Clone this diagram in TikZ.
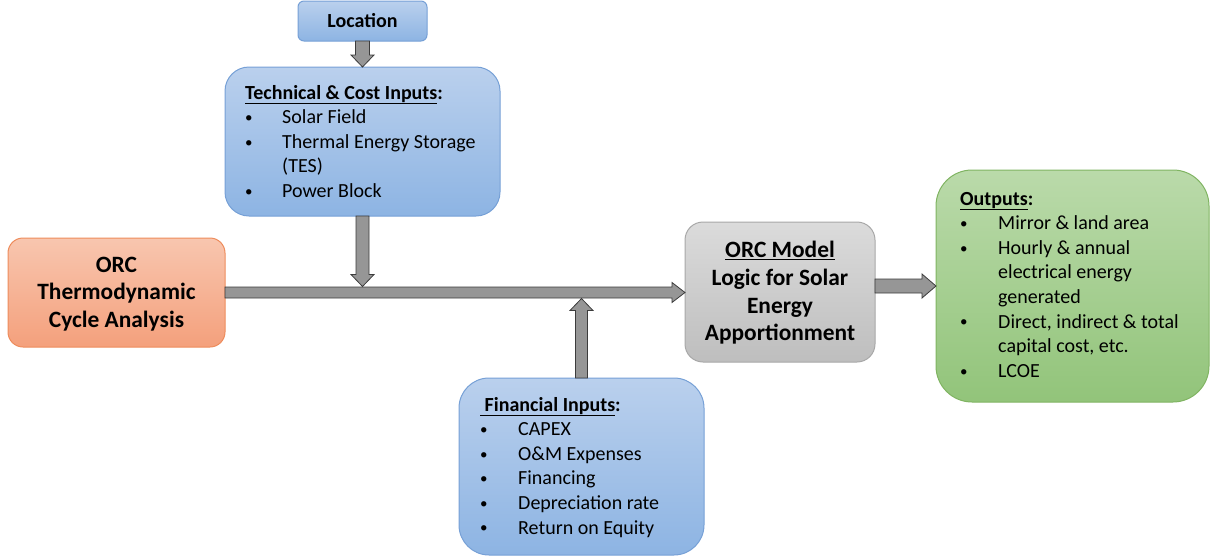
\documentclass[tikz,border=0pt]{standalone}
\usepackage{fontspec}
\setmainfont{Carlito}
\usetikzlibrary{calc}
\definecolor{bluetop}{RGB}{186,208,237}
\definecolor{bluebot}{RGB}{141,180,227}
\definecolor{blueborder}{RGB}{118,160,214}
\definecolor{orangetop}{RGB}{248,198,175}
\definecolor{orangebot}{RGB}{244,160,124}
\definecolor{orangeborder}{RGB}{238,140,92}
\definecolor{graytop}{RGB}{219,219,219}
\definecolor{graybot}{RGB}{190,190,190}
\definecolor{grayborder}{RGB}{168,168,168}
\definecolor{greentop}{RGB}{186,218,170}
\definecolor{greenbot}{RGB}{146,196,122}
\definecolor{greenborder}{RGB}{128,180,98}
\definecolor{arrowfill}{RGB}{150,150,150}
\definecolor{arrowdraw}{RGB}{60,60,60}
\newcommand{\bul}{\raisebox{1.2pt}{\fontsize{15}{15}\selectfont\textbullet}}
\newcommand{\uln}[1]{\underline{\smash{#1}}}
\tikzset{
  box/.style={draw, line width=1pt, rounded corners=#1, inner sep=0pt, outer sep=0pt, anchor=north west},
  bluebox/.style={box=#1, draw=blueborder, top color=bluetop, bottom color=bluebot},
  orangebox/.style={box=#1, draw=orangeborder, top color=orangetop, bottom color=orangebot},
  graybox/.style={box=#1, draw=grayborder, top color=graytop, bottom color=graybot},
  greenbox/.style={box=#1, draw=greenborder, top color=greentop, bottom color=greenbot},
  lst/.style={anchor=base west, inner sep=0pt, font=\fontsize{20}{24.6}\selectfont},
  bigtxt/.style={anchor=base, inner sep=0pt, font=\fontsize{23.4}{27.8}\selectfont\bfseries},
  blockarrow/.style={draw=arrowdraw, fill=arrowfill, line width=0.8pt, line join=miter},
}
\begin{document}
\begin{tikzpicture}[x=1pt,y=-1pt]
\useasboundingbox (0,0) rectangle (1210,557);
% boxes
\node[bluebox=6pt, minimum width=129pt, minimum height=40pt] (loc) at (298,1) {};
\node[bluebox=24pt, minimum width=275pt, minimum height=149pt] (tech) at (225,67) {};
\node[orangebox=15pt, minimum width=217pt, minimum height=109pt] (orc) at (8,238) {};
\node[graybox=18pt, minimum width=190pt, minimum height=140pt] (mid) at (685,222) {};
\node[greenbox=36pt, minimum width=273pt, minimum height=232pt] (out) at (936,170) {};
\node[bluebox=30pt, minimum width=245pt, minimum height=177pt] (fin) at (459,378) {};
% texts
\node[anchor=base, inner sep=0pt, font=\fontsize{20}{24}\selectfont\bfseries] (loctxt) at ($(loc.north)+(0,26)$) {Location};
\node[lst] (techtxt) at ($(tech.north west)+(20,32)$) {\begin{tabular}[t]{@{}p{37pt}@{}l@{}}
\multicolumn{2}{@{}l@{}}{\textbf{\underline{Technical \& Cost Inputs}:}}\\
\bul & Solar Field\\
\bul & Thermal Energy Storage\\
 & (TES)\\
\bul & Power Block
\end{tabular}};
\node[bigtxt] (orctxt) at ($(orc.north)+(0,34)$) {\begin{tabular}[t]{@{}c@{}}
ORC\\ Thermodynamic\\ Cycle Analysis
\end{tabular}};
\node[bigtxt] (midtxt) at ($(mid.north)+(0,35.5)$) {\begin{tabular}[t]{@{}c@{}}
\underline{ORC Model}\\ Logic for Solar\\ Energy\\ Apportionment
\end{tabular}};
\node[lst] (outtxt) at ($(out.north west)+(24,35)$) {\begin{tabular}[t]{@{}p{38pt}@{}l@{}}
\multicolumn{2}{@{}l@{}}{\textbf{\underline{Outputs}:}}\\
\bul & Mirror \& land area\\
\bul & Hourly \& annual\\
 & electrical energy\\
 & generated\\
\bul & Direct, indirect \& total\\
 & capital cost, etc.\\
\bul & LCOE
\end{tabular}};
\node[lst] (fintxt) at ($(fin.north west)+(21,33)$) {\begin{tabular}[t]{@{}p{38pt}@{}l@{}}
\multicolumn{2}{@{}l@{}}{\textbf{\underline{\ Financial Inputs}:}}\\
\bul & CAPEX\\
\bul & O\&M Expenses\\
\bul & Financing\\
\bul & Depreciation rate\\
\bul & Return on Equity
\end{tabular}};
% junction coordinates on the main bar
\coordinate (j1) at ($(tech.south |- orc.east)+(0,-6)$);
\coordinate (j2) at ($(fin.north |- orc.east)+(0,6)$);
\coordinate (barend) at (orc.east -| mid.west);
\coordinate (o1) at (mid.east |- out.west);
% block arrows
\draw[blockarrow] ($(loc.south)+(-7,0)$) -- ($(tech.north)+(-7,-12)$) -- ($(tech.north)+(-11.5,-12)$) -- (tech.north)
  -- ($(tech.north)+(11.5,-12)$) -- ($(tech.north)+(7,-12)$) -- ($(loc.south)+(7,0)$) -- cycle;
\draw[blockarrow] ($(orc.east)+(0,-5.5)$) -- ($(barend)+(-13,-5.5)$) -- ($(barend)+(-13,-10)$) -- (barend)
  -- ($(barend)+(-13,10)$) -- ($(barend)+(-13,5.5)$) -- ($(orc.east)+(0,5.5)$) -- cycle;
\draw[blockarrow] ($(tech.south)+(-6.5,0)$) -- ($(j1)+(-6.5,-12)$) -- ($(j1)+(-11.5,-12)$) -- (j1)
  -- ($(j1)+(11.5,-12)$) -- ($(j1)+(6.5,-12)$) -- ($(tech.south)+(6.5,0)$) -- cycle;
\draw[blockarrow] ($(fin.north)+(-6,0)$) -- ($(j2)+(-6,12)$) -- ($(j2)+(-11.5,12)$) -- (j2)
  -- ($(j2)+(11.5,12)$) -- ($(j2)+(6,12)$) -- ($(fin.north)+(6,0)$) -- cycle;
\draw[blockarrow] ($(o1)+(0,-7)$) -- ($(out.west)+(-14,-7)$) -- ($(out.west)+(-14,-12)$) -- (out.west)
  -- ($(out.west)+(-14,12)$) -- ($(out.west)+(-14,7)$) -- ($(o1)+(0,7)$) -- cycle;
\end{tikzpicture}
\end{document}
